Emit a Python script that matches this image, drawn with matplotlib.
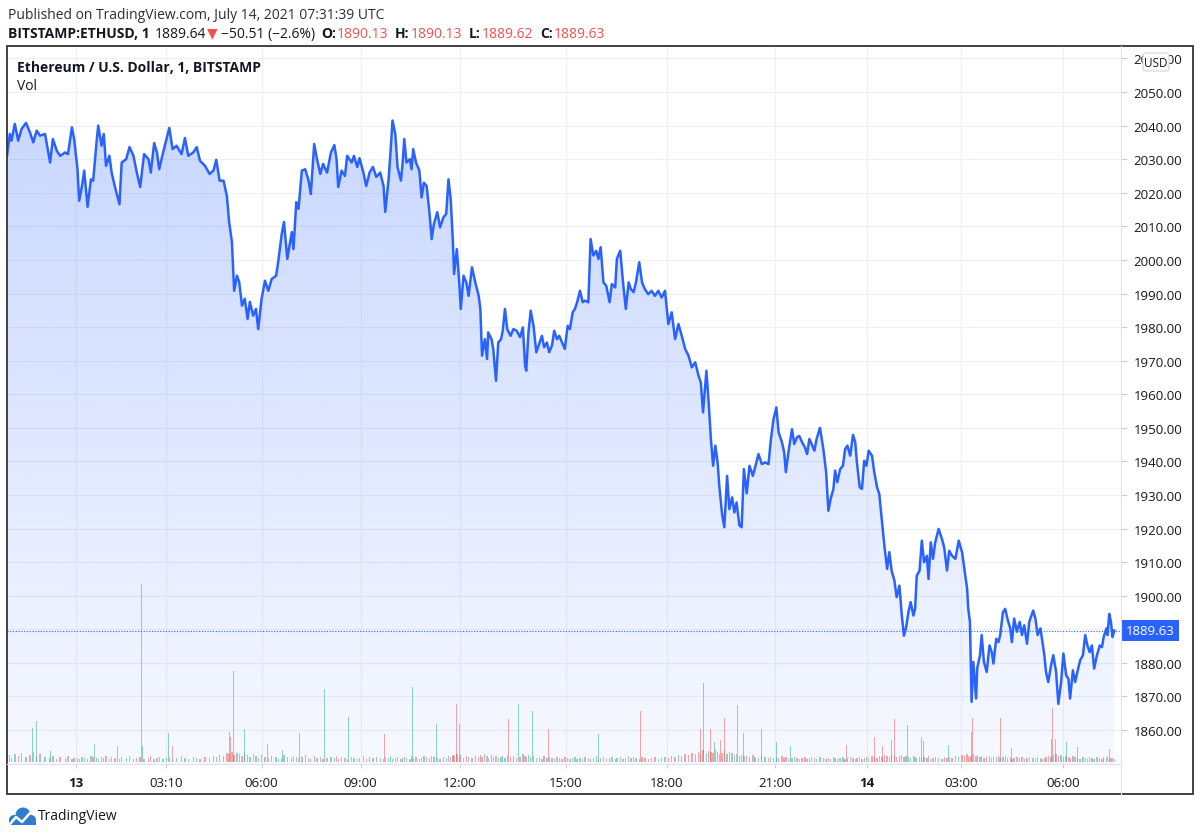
import numpy as np
import matplotlib
matplotlib.use("Agg")
import matplotlib.pyplot as plt
from matplotlib.patches import Rectangle, Circle, FancyBboxPatch
from matplotlib.transforms import blended_transform_factory

plt.rcParams['font.family'] = ['Open Sans', 'DejaVu Sans']

# 1-minute bars, counted from the left edge of the chart (BITSTAMP:ETHUSD, 13-14 July 2021)
minute = [0, 5, 8, 14, 20, 26, 34, 41, 47, 53,
          59, 68, 77, 82, 89, 95, 104, 109, 116, 120,
          126, 129, 134, 138, 144, 150, 154, 160, 163, 169,
          173, 177, 183, 187, 193, 201, 205, 213, 219, 226,
          232, 238, 245, 253, 257, 263, 268, 272, 279, 285,
          290, 296, 303, 312, 318, 324, 333, 339, 345, 354,
          362, 369, 374, 380, 387, 393, 397, 402, 406, 411,
          415, 420, 425, 430, 434, 440, 445, 449, 455, 461,
          467, 473, 481, 485, 491, 495, 501, 509, 512, 517,
          521, 527, 533, 539, 543, 549, 554, 560, 565, 572,
          579, 585, 589, 592, 598, 604, 608, 616, 620, 626,
          630, 637, 642, 648, 654, 660,
          667, 673, 676, 682, 685, 689, 694, 698, 704, 707,
          710, 714, 720, 723, 726, 731, 737, 741, 745, 750,
          755, 759, 763, 769, 774, 780, 785, 789, 793, 797,
          799, 804, 809, 811, 816, 821, 825, 831, 837, 843,
          846, 849, 854, 858, 860, 866, 869, 874, 878, 883,
          886, 890, 894, 900, 905, 911, 917, 922, 926, 928,
          932, 936, 941, 946, 952, 956, 960, 965, 969, 974,
          978, 983, 987, 992, 997, 1002, 1006, 1011, 1015, 1019,
          1024, 1029, 1033, 1039, 1043, 1048, 1053, 1057, 1061, 1066,
          1071, 1077, 1081, 1087, 1090, 1096, 1101, 1106, 1111, 1115,
          1120, 1124, 1130, 1135, 1140, 1146, 1152, 1158, 1164, 1170,
          1176, 1182, 1188, 1194, 1200, 1206, 1212, 1218, 1224, 1230,
          1236, 1240, 1244, 1250, 1254, 1258, 1262, 1266, 1270, 1273,
          1278, 1282, 1287, 1291, 1296, 1300, 1304, 1309, 1313, 1317,
          1322, 1327, 1333, 1337, 1343, 1349, 1355, 1361, 1365, 1370,
          1375, 1379, 1385, 1389, 1392, 1397, 1403, 1407, 1412, 1416,
          1421, 1426, 1430, 1434, 1438, 1443, 1447, 1453, 1459, 1464,
          1468, 1472, 1477, 1480, 1484, 1489, 1494, 1498, 1502, 1507,
          1512, 1516, 1519, 1524, 1528, 1532, 1536, 1540, 1546, 1550,
          1555, 1559, 1564, 1568, 1573, 1577, 1581, 1586, 1590, 1595,
          1599, 1603, 1607, 1611, 1615, 1620, 1623, 1626, 1631, 1635,
          1639, 1644, 1647, 1651, 1655, 1659, 1665, 1671, 1675, 1680,
          1684, 1689, 1695, 1701, 1707, 1711, 1716, 1718, 1721, 1724,
          1727, 1732, 1734, 1739, 1742, 1746, 1751, 1756, 1760, 1763,
          1768, 1772, 1775, 1780, 1784, 1788, 1793, 1796, 1800, 1805,
          1810, 1814, 1818, 1823, 1827, 1834, 1838, 1842, 1847, 1850,
          1854, 1857, 1861, 1866, 1870, 1875, 1879, 1884, 1888, 1893,
          1897, 1900, 1905, 1909, 1913, 1918, 1923, 1927, 1931, 1935,
          1939, 1943, 1948, 1953, 1957, 1960, 1965, 1967, 1970, 1973,
          1976, 1979]

close = [2031, 2037.5, 2035.5, 2040.5, 2035.5, 2039, 2040.8, 2038, 2035, 2038.5,
         2037, 2037.5, 2029, 2036, 2032.5, 2031, 2032, 2031.5, 2039.5, 2036,
         2027, 2017.6, 2022, 2026.6, 2015.8, 2024, 2023.6, 2035, 2040, 2034,
         2037.5, 2028, 2031, 2026, 2021.7, 2016.6, 2029, 2030, 2033.6, 2031,
         2026, 2021.7, 2031.5, 2030, 2026, 2034.8, 2032, 2027, 2032, 2036,
         2039.3, 2033, 2034, 2031.5, 2036.3, 2031, 2032, 2033.6, 2029.5, 2028,
         2025.6, 2026.6, 2029.8, 2023.6, 2023.6, 2019, 2011.3, 2005.3, 1990.8, 1995.3,
         1993.4, 1986.4, 1988.4, 1982.4, 1987.5, 1983.4, 1985.4, 1979.4, 1988.4, 1993.8,
         1990.8, 1994.3, 1995.3, 1999.8, 2007.7, 2011.3, 2000.3, 2008.3, 2003.2, 2017.2,
         2015.2, 2026.6, 2027, 2023.6, 2019.6, 2034.5, 2030, 2025.6, 2028.6, 2026,
         2032, 2034.2, 2030, 2021.7, 2026.6, 2025, 2031, 2029, 2031, 2027.7,
         2030.3, 2026, 2022, 2026, 2027.7, 2024.7,
         2026, 2022, 2014.3, 2024, 2031, 2041.5, 2037.5, 2027.6, 2023.6, 2028.6,
         2036, 2029, 2030, 2027, 2033, 2029, 2026.6, 2018.6, 2023, 2022,
         2014.2, 2006.2, 2010.7, 2014.2, 2009.7, 2012.7, 2013.7, 2024, 2018.1, 2005.2,
         1995.8, 2003.2, 1991.3, 1985.4, 1995.3, 1993.3, 1989.3, 1997.8, 1993.3, 1989.3,
         1985.4, 1971.5, 1976.4, 1970.5, 1978.4, 1976.4, 1973.5, 1964, 1975.4, 1976.4,
         1978.9, 1985.4, 1979.4, 1977.4, 1979.4, 1978.9, 1977, 1979.9, 1968.5, 1967,
         1978.4, 1984.9, 1980.4, 1972.5, 1975.4, 1977.4, 1974, 1975.4, 1972.5, 1974.5,
         1978.9, 1976.4, 1977.4, 1975.4, 1973.5, 1980.4, 1979.4, 1984.4, 1985.4, 1987.4,
         1990.8, 1987.4, 1987.9, 1987.4, 2006.2, 2001.3, 2002.7, 2000.3, 2003.8, 1993.3,
         1992.3, 1987.4, 1992.8, 1991.8, 2000.3, 2002.7, 1993.3, 1985.4, 1993.3, 1991.3,
         1990.4, 1993.3, 1999.3, 1993.3, 1991.3, 1989.8, 1990.8, 1989.3, 1990.8, 1988.8,
         1990.8, 1980.9, 1984.4, 1976.4, 1980.9, 1977.4, 1973.5, 1971.5, 1968, 1969.5,
         1965.5, 1963.5, 1954.6, 1967, 1957.6, 1946.7, 1938.7, 1944.7, 1939.7, 1932.8,
         1924.3, 1920.4, 1935.7, 1925.8, 1929.3, 1924.8, 1927.8, 1920.9, 1920.4, 1937.7,
         1930.5, 1938.7, 1935.7, 1938.2, 1942.2, 1939.2, 1939.7, 1939.2, 1946.1, 1952.6,
         1956.1, 1948.7, 1945.7, 1942.7, 1936.8, 1943.2, 1949.6, 1945.2, 1947.2, 1947.6,
         1945.7, 1944.2, 1942.2, 1946.7, 1945.2, 1943.2, 1946.7, 1950, 1943.7, 1936.8,
         1925.3, 1928.8, 1931.8, 1937.3, 1933.8, 1937.7, 1938.7, 1943.7, 1944.7, 1941.7,
         1947.9, 1945.7, 1939.7, 1932.3, 1931.8, 1940.2, 1938.7, 1943.2, 1941.7, 1936.8,
         1932.3, 1930.3, 1921.9, 1915, 1908, 1913, 1907.5, 1904.5, 1899.6, 1903,
         1894.6, 1888.1, 1890.6, 1895.1, 1898.1, 1894.1, 1896.1, 1906, 1907.5, 1916.4,
         1910, 1911.9, 1905, 1915.9, 1911, 1915.9, 1919.9, 1916.9, 1914.4, 1907.5,
         1913.4, 1911.9, 1911, 1916.4, 1912.9, 1908, 1902, 1896.1, 1892.2, 1868.4,
         1880.3, 1869.4, 1878.4, 1882.3, 1888.3, 1880.3, 1877.3, 1885.2, 1883.2, 1879.8,
         1887.2, 1886.2, 1888.2, 1895.1, 1896.1, 1893.2, 1890.3, 1886.2, 1893.2, 1889.3,
         1892.2, 1888.3, 1891.2, 1885.7, 1892.2, 1895.6, 1893.2, 1888.3, 1890.3, 1886.8,
         1882.3, 1877.3, 1874.3, 1879.3, 1882.3, 1877.3, 1867.8, 1874.3, 1882.8, 1876.3,
         1875.3, 1869.4, 1877.8, 1874.3, 1877.3, 1880.8, 1882.3, 1888.3, 1885.2, 1883.2,
         1885.2, 1878.3, 1882.3, 1885.2, 1884.7, 1887.7, 1890.3, 1888.3, 1894.6, 1892.2,
         1887.7, 1889.63]

# background volume, same bars as above (relative units)
vol = [5, 7, 4, 8, 6, 9, 5, 7, 10, 6,
       8, 5, 4, 6, 3, 5, 4, 6, 3, 4,
       4, 3, 5, 4, 3, 6, 5, 4, 3, 5,
       4, 6, 3, 5, 4, 3, 5, 4, 6, 3,
       4, 5, 3, 4, 6, 3, 4, 5, 3, 4,
       5, 3, 4, 6, 4, 3, 5, 4, 3, 5,
       4, 6, 5, 7, 6, 9, 8, 10, 7, 9,
       8, 6, 9, 7, 5, 8, 6, 4, 7, 5,
       4, 6, 5, 3, 4, 7, 5, 4, 6, 5,
       4, 5, 7, 4, 3, 6, 4, 5, 3, 4,
       5, 4, 6, 3, 5, 4, 3, 5, 4, 3,
       4, 6, 3, 5, 4, 5,
       4, 3, 5, 4, 6, 3, 4, 5, 3, 4,
       5, 4, 3, 6, 4, 5, 3, 4, 6, 5,
       4, 6, 5, 4, 3, 5, 4, 6, 5, 7,
       6, 8, 5, 7, 4, 6, 5, 4, 6, 5,
       7, 5, 8, 6, 4, 7, 5, 6, 4, 5,
       6, 4, 7, 5, 6, 4, 5, 8, 6, 5,
       7, 5, 6, 4, 5, 3, 6, 4, 5, 4,
       3, 5, 4, 3, 5, 4, 3, 4, 5, 3,
       4, 3, 5, 4, 3, 4, 6, 3, 4, 5,
       3, 4, 5, 3, 4, 5, 3, 4, 6, 4,
       5, 4, 3, 5, 4, 3, 4, 5, 3, 4,
       5, 4, 6, 5, 7, 6, 8, 7, 9, 8,
       10, 8, 12, 9, 11, 10, 9, 12, 10, 8,
       9, 11, 8, 10, 9, 7, 8, 6, 7, 6,
       6, 5, 7, 5, 4, 6, 5, 4, 5, 4,
       5, 4, 6, 4, 5, 3, 4, 5, 4, 3,
       4, 5, 3, 4, 5, 4, 3, 5, 4, 3,
       4, 3, 5, 4, 3, 4, 5, 3, 4, 5,
       4, 3, 4, 5, 3, 4, 5, 4, 6, 5,
       4, 6, 5, 7, 6, 5, 7, 6, 5, 6,
       7, 5, 6, 5, 4, 6, 5, 4, 5, 4,
       5, 4, 6, 3, 4, 5, 4, 3, 5, 4,
       5, 4, 6, 5, 7, 6, 8, 6, 5, 7,
       8, 6, 7, 5, 6, 4, 5, 6, 4, 5,
       5, 6, 4, 5, 6, 4, 5, 3, 4, 5,
       4, 5, 3, 4, 5, 4, 3, 5, 4, 3,
       4, 5, 6, 5, 7, 8, 6, 7, 5, 6,
       5, 4, 6, 5, 4, 3, 5, 4, 3, 5,
       4, 3, 5, 4, 3, 5, 4, 6, 3, 4,
       4, 3]

# the taller volume bars
spike_minute = [45, 53, 77, 118, 157, 198, 240, 243, 288, 295,
                398, 400, 405, 420, 425, 465, 493, 522, 568, 611,
                674, 724, 767, 803, 808, 897, 915, 939, 967, 1058,
                1126, 1132, 1240, 1245, 1257, 1264, 1275, 1283, 1305, 1316,
                1348, 1375, 1400, 1501, 1550, 1564, 1581, 1587, 1609, 1635,
                1638, 1683, 1705, 1723, 1725, 1775, 1796, 1866, 1869, 1874,
                1893, 1913, 1971]
spike_vol = [34, 41, 11, 13, 18, 16, 178, 16, 29, 16,
             30, 25, 91, 33, 33, 18, 12, 29, 73, 45,
             28, 75, 38, 58, 38, 43, 58, 51, 33, 28,
             43, 51, 33, 79, 33, 20, 22, 44, 57, 29,
             33, 20, 16, 17, 25, 16, 22, 43, 37, 25,
             21, 17, 15, 30, 44, 44, 14, 23, 54, 23,
             20, 15, 13]
spike_up = [1, 1, 1, 1, 1, 0, 0, 1, 1, 0,
            0, 0, 0, 1, 1, 0, 1, 1, 1, 1,
            0, 1, 1, 0, 0, 0, 1, 1, 0, 1,
            1, 0, 0, 0, 0, 1, 0, 0, 0, 1,
            1, 1, 1, 0, 0, 0, 0, 0, 1, 1,
            1, 1, 0, 0, 0, 0, 0, 0, 0, 0,
            1, 1, 1]

tick_minute = [123, 285, 455, 632, 809, 999, 1179, 1372, 1537, 1705, 1887]
tick_label = ['13', '03:10', '06:00', '09:00', '12:00', '15:00', '18:00', '21:00', '14', '03:00', '06:00']
grid_prices = list(range(1860, 2061, 10))
price_labels = [p for p in grid_prices if p != 1890]
last_price = 1889.63

W, H = 1200, 837
BLUE = '#2962ff'
TXT = '#131722'
RED = '#ef5350'
y_lo, y_hi = 1849.9, 2063.4
x_lo, x_hi = 0, 1991

fig = plt.figure(figsize=(W / 100, H / 100), dpi=100)
fig.patch.set_facecolor('white')


def rect(l, t, r, b):
    return [l / W, 1 - b / H, (r - l) / W, (b - t) / H]


pane = rect(7, 48, 1121, 765)
axg = fig.add_axes(pane, zorder=1)
axv = fig.add_axes(pane, zorder=2)
axp = fig.add_axes(pane, zorder=3)
for a in (axg, axv, axp):
    a.set_xlim(x_lo, x_hi)
    for s in a.spines.values():
        s.set_visible(False)
axv.patch.set_visible(False)
axp.patch.set_visible(False)
axg.set_ylim(y_lo, y_hi)
axp.set_ylim(y_lo, y_hi)
axg.tick_params(left=False, bottom=False, labelleft=False, labelbottom=False)
axv.tick_params(left=False, bottom=False, labelleft=False, labelbottom=False)

# grid
for p in grid_prices:
    axg.axhline(p, color='#eef0f5', lw=0.8, zorder=0)
for t in tick_minute:
    axg.axvline(t, color='#eef0f5', lw=0.8, zorder=0)

# gradient area under the price line
n = 256
grad = np.zeros((n, 1, 4))
grad[:, 0, :3] = np.array([41, 98, 255]) / 255
grad[:, 0, 3] = np.linspace(0.25, 0.04, n)
top = max(close)
im = axg.imshow(grad, extent=[minute[0], minute[-1], y_lo, top], origin='upper',
                aspect='auto', interpolation='bilinear', zorder=1)
poly = axg.fill_between(minute, close, y_lo, facecolor='none', edgecolor='none')
im.set_clip_path(poly.get_paths()[0], transform=axg.transData)
axg.set_xlim(x_lo, x_hi)
axg.set_ylim(y_lo, y_hi)

# volume
up_c = (38 / 255, 166 / 255, 154 / 255, 0.5)
dn_c = (239 / 255, 83 / 255, 80 / 255, 0.5)
rising = np.diff(np.array(close), prepend=close[0]) >= 0
axv.bar(minute, vol, width=2.4, color=[up_c if r else dn_c for r in rising], linewidth=0)
axv.bar(spike_minute, spike_vol, width=1.7,
        color=[up_c if u else dn_c for u in spike_up], linewidth=0)
axv.set_ylim(-2, 715)

# price line
axp.plot(minute, close, color=BLUE, lw=1.8, solid_joinstyle='round', zorder=3)
axp.axhline(last_price, color=BLUE, lw=0.8, ls=(0, (1, 1.5)), zorder=2)

axp.yaxis.tick_right()
axp.set_yticks(price_labels, [f'{p:.2f}' for p in price_labels])
axp.tick_params(axis='y', length=4, width=0.8, color='#c8cbd2', pad=5,
                labelsize=9.5, labelcolor=TXT)
axp.set_xticks(tick_minute, tick_label)
axp.tick_params(axis='x', length=3, width=0.8, color='#c8cbd2', pad=6,
                labelsize=9.5, labelcolor=TXT)
for lab in axp.get_xticklabels():
    if lab.get_text() in ('13', '14'):
        lab.set_fontweight('bold')

tr = blended_transform_factory(axp.transAxes, axp.transData)
axp.text(1 + 5 / 1114, last_price, f'{last_price:.2f}', transform=tr, ha='left', va='center',
         color='white', fontsize=9.5, clip_on=False, zorder=5,
         bbox=dict(boxstyle='square,pad=0.32', fc=BLUE, ec='none'))

# overlay in pixel coordinates for frame and texts
axo = fig.add_axes([0, 0, 1, 1], zorder=10)
axo.set_xlim(0, W)
axo.set_ylim(H, 0)
axo.axis('off')

axo.plot([7, 1121], [765, 765], color='#e0e3eb', lw=0.8)
axo.plot([1121, 1121], [47, 795], color='#e0e3eb', lw=0.8)
axo.add_patch(Rectangle((7, 47), 1186, 748, fill=False, ec='#333333', lw=1.3))

axo.add_patch(FancyBboxPatch((1143, 54), 26, 18, boxstyle='round,pad=0,rounding_size=3',
                             fc='white', ec='#d1d4dc', lw=0.8))
axo.text(1156, 63.5, 'USD', ha='center', va='center', fontsize=8.5, color=TXT)

renderer = fig.canvas.get_renderer()


def runs(x, y, parts, size):
    for s, col, wt, gap in parts:
        t = axo.text(x, y, s, color=col, fontweight=wt, fontsize=size, ha='left', va='center')
        x += t.get_window_extent(renderer).width + gap


runs(8, 15, [('Published on TradingView.com, July 14, 2021 07:31:39 UTC', '#2a2e39', 'normal', 0)], 10)
runs(8, 34, [('BITSTAMP:ETHUSD, 1', TXT, 'bold', 5),
             ('1889.64', TXT, 'normal', 1),
             ('▼', RED, 'normal', 3),
             ('\u221250.51 (\u22122.6%)', TXT, 'normal', 6),
             ('O:', TXT, 'bold', 1), ('1890.13', RED, 'normal', 7),
             ('H:', TXT, 'bold', 1), ('1890.13', RED, 'normal', 7),
             ('L:', TXT, 'bold', 1), ('1889.62', RED, 'normal', 7),
             ('C:', TXT, 'bold', 1), ('1889.63', RED, 'normal', 0)], 10)
axo.text(17, 68, 'Ethereum / U.S. Dollar, 1, BITSTAMP', fontsize=10, fontweight='bold',
         color=TXT, ha='left', va='center')
axo.text(17, 86, 'Vol', fontsize=10, color=TXT, ha='left', va='center')

# TradingView logo
LOGO = '#2e7dd1'
for cx, cy, r in [(14, 821, 5), (23, 816, 7.5), (31, 821, 5)]:
    axo.add_patch(Circle((cx, cy), r, color=LOGO, lw=0))
axo.add_patch(Rectangle((9, 821), 27, 5, color=LOGO, lw=0))
axo.plot([10, 16, 22, 30], [825, 818, 823, 814], color='white', lw=1.8,
         solid_capstyle='round', solid_joinstyle='round')
axo.text(38, 817, 'TradingView', fontsize=10, color=TXT, ha='left', va='center')

fig.savefig('out.png', dpi=100)
